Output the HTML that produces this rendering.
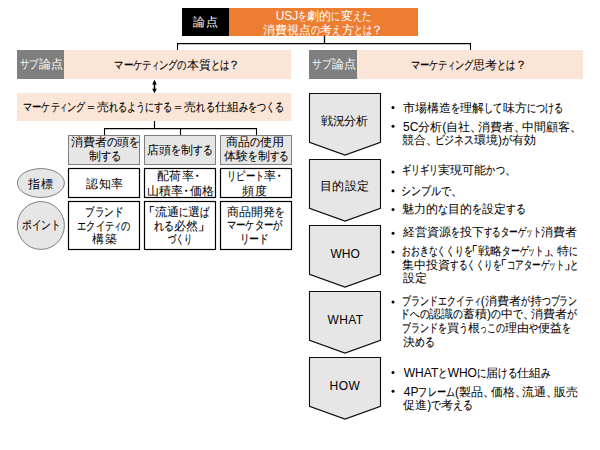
<!DOCTYPE html>
<html lang="ja"><head><meta charset="utf-8">
<style>
html,body{margin:0;padding:0;background:#fff;}
body{width:600px;height:450px;position:relative;overflow:hidden;font-family:"Liberation Sans",sans-serif;}
svg{position:absolute;left:0;top:0;}
i{display:inline-block;font-style:normal;transform-origin:0 0;-webkit-text-stroke:0.15px currentColor;}
i.q{-webkit-text-stroke:0.35px currentColor;}
i.n{-webkit-text-stroke:0;}
.t{position:absolute;white-space:nowrap;font-size:12px;line-height:14px;color:#000;}
.w{color:#fff;}
.w i{-webkit-text-stroke:0;}
</style></head><body>
<svg width="600" height="450" viewBox="0 0 600 450">
<rect x="182" y="8" width="47" height="28" fill="#000"/>
<rect x="229" y="8" width="189" height="28" fill="#ed7d31"/>
<line x1="324.5" y1="36" x2="324.5" y2="43.5" stroke="#000" stroke-width="1.3"/>
<line x1="177" y1="43.6" x2="471" y2="43.6" stroke="#000" stroke-width="1.2"/>
<line x1="177.5" y1="43.2" x2="177.5" y2="50" stroke="#000" stroke-width="1.1"/>
<line x1="470.5" y1="43.2" x2="470.5" y2="50" stroke="#000" stroke-width="1.1"/>
<rect x="17" y="50" width="47" height="29" fill="#7f7f7f"/>
<rect x="64" y="50" width="227" height="29" fill="#fbe5d6"/>
<rect x="309" y="50" width="48" height="29" fill="#7f7f7f"/>
<rect x="357" y="50" width="226" height="29" fill="#fbe5d6"/>
<line x1="154.5" y1="83" x2="154.5" y2="90" stroke="#000" stroke-width="1.5"/>
<polygon points="154.5,79.8 152.2,84.6 156.8,84.6" fill="#000"/>
<polygon points="154.5,93.3 152.2,88.8 156.8,88.8" fill="#000"/>
<rect x="17" y="93" width="274" height="28" fill="#fbe5d6"/>
<line x1="154.5" y1="121" x2="154.5" y2="128.5" stroke="#000" stroke-width="1.2"/>
<line x1="104" y1="128.6" x2="257" y2="128.6" stroke="#000" stroke-width="1.2"/>
<line x1="104.5" y1="128.2" x2="104.5" y2="135" stroke="#000" stroke-width="1.1"/>
<line x1="180.5" y1="128.2" x2="180.5" y2="135" stroke="#000" stroke-width="1.1"/>
<line x1="256.5" y1="128.2" x2="256.5" y2="135" stroke="#000" stroke-width="1.1"/>
<rect x="68.5" y="135.5" width="71" height="29" fill="#e6e6e6" stroke="#7f7f7f" stroke-width="1"/>
<rect x="68.5" y="168.5" width="71" height="29" fill="#fff" stroke="#000" stroke-width="1.2"/>
<rect x="68.5" y="201.5" width="71" height="48" fill="#fff" stroke="#000" stroke-width="1.2"/>
<rect x="144.5" y="135.5" width="71" height="29" fill="#e6e6e6" stroke="#7f7f7f" stroke-width="1"/>
<rect x="144.5" y="168.5" width="71" height="29" fill="#fff" stroke="#000" stroke-width="1.2"/>
<rect x="144.5" y="201.5" width="71" height="48" fill="#fff" stroke="#000" stroke-width="1.2"/>
<rect x="220.5" y="135.5" width="71" height="29" fill="#e6e6e6" stroke="#7f7f7f" stroke-width="1"/>
<rect x="220.5" y="168.5" width="71" height="29" fill="#fff" stroke="#000" stroke-width="1.2"/>
<rect x="220.5" y="201.5" width="71" height="48" fill="#fff" stroke="#000" stroke-width="1.2"/>
<ellipse cx="40.9" cy="183" rx="23.5" ry="14.4" fill="#e6e6e6" stroke="#7f7f7f" stroke-width="1"/>
<ellipse cx="40.9" cy="225.5" rx="23.5" ry="23.9" fill="#e6e6e6" stroke="#7f7f7f" stroke-width="1"/>
<polygon points="309.5,93.5 380.5,93.5 380.5,142.3 345,155.1 309.5,142.3" fill="#e6e6e6" stroke="#0d0d0d" stroke-width="1.1"/>
<polygon points="309.5,159.5 380.5,159.5 380.5,208.3 345,221.1 309.5,208.3" fill="#e6e6e6" stroke="#0d0d0d" stroke-width="1.1"/>
<polygon points="309.5,225.5 380.5,225.5 380.5,274.3 345,287.1 309.5,274.3" fill="#e6e6e6" stroke="#0d0d0d" stroke-width="1.1"/>
<polygon points="309.5,291.5 380.5,291.5 380.5,340.3 345,353.1 309.5,340.3" fill="#e6e6e6" stroke="#0d0d0d" stroke-width="1.1"/>
<polygon points="309.5,357.5 380.5,357.5 380.5,406.3 345,419.1 309.5,406.3" fill="#e6e6e6" stroke="#0d0d0d" stroke-width="1.1"/>
<circle cx="393" cy="107.5" r="1.5" fill="#000"/>
<circle cx="393" cy="126.3" r="1.5" fill="#000"/>
<circle cx="393" cy="172" r="1.5" fill="#000"/>
<circle cx="393" cy="190.8" r="1.5" fill="#000"/>
<circle cx="393" cy="209.5" r="1.5" fill="#000"/>
<circle cx="393" cy="233.3" r="1.5" fill="#000"/>
<circle cx="393" cy="252" r="1.5" fill="#000"/>
<circle cx="393" cy="302" r="1.5" fill="#000"/>
<circle cx="393" cy="372.5" r="1.5" fill="#000"/>
<circle cx="393" cy="391.3" r="1.5" fill="#000"/>
</svg>
<div class="t w" style="left:192.8px;top:15.3px"><span style="letter-spacing:1.40px">論点</span></div>
<div class="t w" style="left:275.7px;top:8.9px">USJ<i style="width:9.09px;transform:scaleX(0.7576)">を</i>劇的<i style="width:9.09px;transform:scaleX(0.7576)">に</i>変<i style="width:9.09px;transform:scaleX(0.7576)">え</i><i style="width:9.09px;transform:scaleX(0.7576)">た</i></div>
<div class="t w" style="left:263.3px;top:22.6px">消費視点<i style="width:9.16px;transform:scaleX(0.7635)">の</i>考<i style="width:9.16px;transform:scaleX(0.7635)">え</i>方<i style="width:9.16px;transform:scaleX(0.7635)">と</i><i style="width:9.16px;transform:scaleX(0.7635)">は</i><i class=n style="width:9.98px;text-indent:-1.01px">？</i></div>
<div class="t w" style="left:19.8px;top:57.25px"><i style="width:9.45px;transform:scaleX(0.7878)">サ</i><i style="width:9.45px;transform:scaleX(0.7878)">ブ</i>論点</div>
<div class="t" style="left:114.3px;top:57.65px"><i style="width:9.31px;transform:scaleX(0.7759)">マ</i><i style="width:9.55px;transform:scaleX(0.7958)">ー</i><i style="width:9.31px;transform:scaleX(0.7759)">ケ</i><i style="width:9.31px;transform:scaleX(0.7759)">テ</i><i style="width:7.16px;transform:scaleX(0.5968)">ィ</i><i style="width:9.31px;transform:scaleX(0.7759)">ン</i><i style="width:9.31px;transform:scaleX(0.7759)">グ</i><i style="width:9.31px;transform:scaleX(0.7759)">の</i>本質<i style="width:9.31px;transform:scaleX(0.7759)">と</i><i style="width:9.31px;transform:scaleX(0.7759)">は</i><i class=n style="width:10.15px;text-indent:-0.93px">？</i></div>
<div class="t w" style="left:312.3px;top:57.25px"><i style="width:9.84px;transform:scaleX(0.8197)">サ</i><i style="width:9.84px;transform:scaleX(0.8197)">ブ</i>論点</div>
<div class="t" style="left:410.7px;top:57.85px"><i style="width:9.19px;transform:scaleX(0.7662)">マ</i><i style="width:9.43px;transform:scaleX(0.7859)">ー</i><i style="width:9.19px;transform:scaleX(0.7662)">ケ</i><i style="width:9.19px;transform:scaleX(0.7662)">テ</i><i style="width:7.07px;transform:scaleX(0.5894)">ィ</i><i style="width:9.19px;transform:scaleX(0.7662)">ン</i><i style="width:9.19px;transform:scaleX(0.7662)">グ</i>思考<i style="width:9.19px;transform:scaleX(0.7662)">と</i><i style="width:9.19px;transform:scaleX(0.7662)">は</i><i class=n style="width:10.02px;text-indent:-0.99px">？</i></div>
<div class="t" style="left:23.0px;top:99.7px"><i style="width:9.10px;transform:scaleX(0.7581)">マ</i><i style="width:9.33px;transform:scaleX(0.7776)">ー</i><i style="width:9.10px;transform:scaleX(0.7581)">ケ</i><i style="width:9.10px;transform:scaleX(0.7581)">テ</i><i style="width:7.00px;transform:scaleX(0.5832)">ィ</i><i style="width:9.10px;transform:scaleX(0.7581)">ン</i><i style="width:9.10px;transform:scaleX(0.7581)">グ</i>＝売<i style="width:9.10px;transform:scaleX(0.7581)">れ</i><i style="width:9.10px;transform:scaleX(0.7581)">る</i><i style="width:9.10px;transform:scaleX(0.7581)">よ</i><i style="width:9.10px;transform:scaleX(0.7581)">う</i><i style="width:9.10px;transform:scaleX(0.7581)">に</i><i style="width:9.10px;transform:scaleX(0.7581)">す</i><i style="width:9.10px;transform:scaleX(0.7581)">る</i>＝売<i style="width:9.10px;transform:scaleX(0.7581)">れ</i><i style="width:9.10px;transform:scaleX(0.7581)">る</i>仕組<i style="width:9.10px;transform:scaleX(0.7581)">み</i><i style="width:9.10px;transform:scaleX(0.7581)">を</i><i style="width:9.10px;transform:scaleX(0.7581)">つ</i><i style="width:9.10px;transform:scaleX(0.7581)">く</i><i style="width:9.10px;transform:scaleX(0.7581)">る</i></div>
<div class="t" style="left:71.0px;top:135.0px">消費者<i style="width:10.44px;transform:scaleX(0.8697)">の</i>頭<i style="width:10.44px;transform:scaleX(0.8697)">を</i></div>
<div class="t" style="left:89.0px;top:148.85px">制<i style="width:10.16px;transform:scaleX(0.8463)">す</i><i style="width:10.16px;transform:scaleX(0.8463)">る</i></div>
<div class="t" style="left:147.3px;top:142.65px">店頭<i style="width:9.77px;transform:scaleX(0.8141)">を</i>制<i style="width:9.77px;transform:scaleX(0.8141)">す</i><i style="width:9.77px;transform:scaleX(0.8141)">る</i></div>
<div class="t" style="left:225.7px;top:135.35px">商品<i style="width:9.92px;transform:scaleX(0.8268)">の</i>使用</div>
<div class="t" style="left:224.3px;top:149.35px">体験<i style="width:9.59px;transform:scaleX(0.7994)">を</i>制<i style="width:9.59px;transform:scaleX(0.7994)">す</i><i style="width:9.59px;transform:scaleX(0.7994)">る</i></div>
<div class="t" style="left:28.2px;top:176.9px"><span style="letter-spacing:0.70px">指標</span></div>
<div class="t" style="left:22.2px;top:218.0px"><i style="width:9.57px;transform:scaleX(0.7976)">ポ</i><i style="width:9.57px;transform:scaleX(0.7976)">イ</i><i style="width:9.57px;transform:scaleX(0.7976)">ン</i><i style="width:9.57px;transform:scaleX(0.7976)">ト</i></div>
<div class="t" style="left:86.3px;top:176.65px"><span style="letter-spacing:0.50px">認知率</span></div>
<div class="t" style="left:157.0px;top:169.35px"><span style="letter-spacing:0.43px">配荷率<i style="width:4.80px;text-indent:-3.60px">・</i></span></div>
<div class="t" style="left:147.0px;top:184.05px">山積率<i style="width:6.67px;text-indent:-2.67px">・</i>価格</div>
<div class="t" style="left:227.0px;top:169.35px"><i style="width:9.25px;transform:scaleX(0.7709)">リ</i><i style="width:9.25px;transform:scaleX(0.7709)">ピ</i><i style="width:9.49px;transform:scaleX(0.7907)">ー</i><i style="width:9.25px;transform:scaleX(0.7709)">ト</i>率<i style="width:4.74px;text-indent:-3.63px">・</i></div>
<div class="t" style="left:242.0px;top:183.55px"><span style="letter-spacing:1.30px">頻度</span></div>
<div class="t" style="left:85.3px;top:205.0px"><i style="width:9.51px;transform:scaleX(0.7923)">ブ</i><i style="width:9.51px;transform:scaleX(0.7923)">ラ</i><i style="width:9.51px;transform:scaleX(0.7923)">ン</i><i style="width:9.51px;transform:scaleX(0.7923)">ド</i></div>
<div class="t" style="left:77.0px;top:218.85px"><i style="width:9.27px;transform:scaleX(0.7729)">エ</i><i style="width:9.27px;transform:scaleX(0.7729)">ク</i><i style="width:9.27px;transform:scaleX(0.7729)">イ</i><i style="width:9.27px;transform:scaleX(0.7729)">テ</i><i style="width:7.13px;transform:scaleX(0.5945)">ィ</i><i style="width:9.27px;transform:scaleX(0.7729)">の</i></div>
<div class="t" style="left:92.3px;top:232.35px"><span style="letter-spacing:0.40px">構築</span></div>
<div class="t" style="left:149.0px;top:204.5px"><i class=q style="width:6.00px;text-indent:-6.00px">「</i>流通<i style="width:9.36px;transform:scaleX(0.7800)">に</i>選<i style="width:9.36px;transform:scaleX(0.7800)">ば</i></div>
<div class="t" style="left:154.0px;top:218.5px"><i style="width:9.84px;transform:scaleX(0.8197)">れ</i><i style="width:9.84px;transform:scaleX(0.8197)">る</i>必然<i class=q style="width:6.31px">」</i></div>
<div class="t" style="left:168.0px;top:231.5px"><i style="width:8.11px;transform:scaleX(0.6760)">づ</i><i style="width:8.11px;transform:scaleX(0.6760)">く</i><i style="width:8.11px;transform:scaleX(0.6760)">り</i></div>
<div class="t" style="left:226.7px;top:204.65px"><span style="letter-spacing:0.08px">商品開発<i style="width:9.36px;transform:scaleX(0.7800)">を</i></span></div>
<div class="t" style="left:226.7px;top:218.0px"><i style="width:9.23px;transform:scaleX(0.7693)">マ</i><i style="width:9.47px;transform:scaleX(0.7890)">ー</i><i style="width:9.23px;transform:scaleX(0.7693)">ケ</i><i style="width:9.23px;transform:scaleX(0.7693)">タ</i><i style="width:9.47px;transform:scaleX(0.7890)">ー</i><i style="width:9.23px;transform:scaleX(0.7693)">が</i></div>
<div class="t" style="left:239.7px;top:232.0px"><i style="width:9.67px;transform:scaleX(0.8060)">リ</i><i style="width:9.92px;transform:scaleX(0.8267)">ー</i><i style="width:9.67px;transform:scaleX(0.8060)">ド</i></div>
<div class="t" style="left:320.7px;top:113.75px"><span style="letter-spacing:-0.13px">戦況分析</span></div>
<div class="t" style="left:319.7px;top:179.25px"><span style="letter-spacing:0.53px">目的設定</span></div>
<div class="t" style="left:330.4px;top:247.0px"><span style="letter-spacing:0.10px">WHO</span></div>
<div class="t" style="left:327.5px;top:312.75px"><span style="letter-spacing:0.40px">WHAT</span></div>
<div class="t" style="left:329.4px;top:378.75px"><span style="letter-spacing:0.60px">HOW</span></div>
<div class="t" style="left:403.3px;top:100.5px">市場構造<i style="width:9.09px;transform:scaleX(0.7579)">を</i>理解<i style="width:9.09px;transform:scaleX(0.7579)">し</i><i style="width:9.09px;transform:scaleX(0.7579)">て</i>味方<i style="width:9.09px;transform:scaleX(0.7579)">に</i><i style="width:9.09px;transform:scaleX(0.7579)">つ</i><i style="width:9.09px;transform:scaleX(0.7579)">け</i><i style="width:9.09px;transform:scaleX(0.7579)">る</i></div>
<div class="t" style="left:403.0px;top:119.6px">5C分析(自社<i style="width:7.88px">、</i>消費者<i style="width:7.88px">、</i>中間顧客<i style="width:7.88px">、</i></div>
<div class="t" style="left:402.3px;top:132.8px">競合<i style="width:8.23px">、</i><i style="width:9.88px;transform:scaleX(0.8231)">ビ</i><i style="width:9.88px;transform:scaleX(0.8231)">ジ</i><i style="width:9.88px;transform:scaleX(0.8231)">ネ</i><i style="width:9.88px;transform:scaleX(0.8231)">ス</i>環境)<i style="width:9.88px;transform:scaleX(0.8231)">が</i>有効</div>
<div class="t" style="left:402.3px;top:163.4px"><i style="width:9.05px;transform:scaleX(0.7540)">ギ</i><i style="width:9.05px;transform:scaleX(0.7540)">リ</i><i style="width:9.05px;transform:scaleX(0.7540)">ギ</i><i style="width:9.05px;transform:scaleX(0.7540)">リ</i>実現可能<i style="width:9.05px;transform:scaleX(0.7540)">か</i><i style="width:9.05px;transform:scaleX(0.7540)">つ</i><i style="width:7.54px">、</i></div>
<div class="t" style="left:401.3px;top:183.5px"><i style="width:9.95px;transform:scaleX(0.8288)">シ</i><i style="width:9.95px;transform:scaleX(0.8288)">ン</i><i style="width:9.95px;transform:scaleX(0.8288)">プ</i><i style="width:9.95px;transform:scaleX(0.8288)">ル</i><i style="width:9.95px;transform:scaleX(0.8288)">で</i><i style="width:8.29px">、</i></div>
<div class="t" style="left:402.3px;top:201.95px">魅力的<i style="width:9.80px;transform:scaleX(0.8171)">な</i>目的<i style="width:9.80px;transform:scaleX(0.8171)">を</i>設定<i style="width:9.80px;transform:scaleX(0.8171)">す</i><i style="width:9.80px;transform:scaleX(0.8171)">る</i></div>
<div class="t" style="left:403.3px;top:224.8px">経営資源<i style="width:8.45px;transform:scaleX(0.7039)">を</i>投下<i style="width:8.45px;transform:scaleX(0.7039)">す</i><i style="width:8.45px;transform:scaleX(0.7039)">る</i><i style="width:8.45px;transform:scaleX(0.7039)">タ</i><i style="width:8.66px;transform:scaleX(0.7219)">ー</i><i style="width:8.45px;transform:scaleX(0.7039)">ゲ</i><i style="width:6.50px;transform:scaleX(0.5414)">ッ</i><i style="width:8.45px;transform:scaleX(0.7039)">ト</i>消費者</div>
<div class="t" style="left:402.3px;top:244.0px"><i style="width:8.75px;transform:scaleX(0.7291)">お</i><i style="width:8.75px;transform:scaleX(0.7291)">お</i><i style="width:8.75px;transform:scaleX(0.7291)">き</i><i style="width:8.75px;transform:scaleX(0.7291)">な</i><i style="width:8.75px;transform:scaleX(0.7291)">く</i><i style="width:8.75px;transform:scaleX(0.7291)">く</i><i style="width:8.75px;transform:scaleX(0.7291)">り</i><i style="width:8.75px;transform:scaleX(0.7291)">を</i><i class=q style="width:5.61px;text-indent:-6.39px">「</i>戦略<i style="width:8.75px;transform:scaleX(0.7291)">タ</i><i style="width:8.97px;transform:scaleX(0.7478)">ー</i><i style="width:8.75px;transform:scaleX(0.7291)">ゲ</i><i style="width:6.73px;transform:scaleX(0.5608)">ッ</i><i style="width:8.75px;transform:scaleX(0.7291)">ト</i><i class=q style="width:5.61px">」</i><i style="width:7.29px">、</i>特<i style="width:8.75px;transform:scaleX(0.7291)">に</i></div>
<div class="t" style="left:402.3px;top:257.9px">集中投資<i style="width:8.49px;transform:scaleX(0.7077)">す</i><i style="width:8.49px;transform:scaleX(0.7077)">る</i><i style="width:8.49px;transform:scaleX(0.7077)">く</i><i style="width:8.49px;transform:scaleX(0.7077)">く</i><i style="width:8.49px;transform:scaleX(0.7077)">り</i><i style="width:8.49px;transform:scaleX(0.7077)">を</i><i class=q style="width:5.44px;text-indent:-6.56px">「</i><i style="width:8.49px;transform:scaleX(0.7077)">コ</i><i style="width:8.49px;transform:scaleX(0.7077)">ア</i><i style="width:8.49px;transform:scaleX(0.7077)">タ</i><i style="width:8.71px;transform:scaleX(0.7259)">ー</i><i style="width:8.49px;transform:scaleX(0.7077)">ゲ</i><i style="width:6.53px;transform:scaleX(0.5444)">ッ</i><i style="width:8.49px;transform:scaleX(0.7077)">ト</i><i class=q style="width:5.44px">」</i><i style="width:8.49px;transform:scaleX(0.7077)">と</i></div>
<div class="t" style="left:403.3px;top:271.25px"><span style="letter-spacing:-0.50px">設定</span></div>
<div class="t" style="left:402.3px;top:294.2px"><i style="width:8.95px;transform:scaleX(0.7457)">ブ</i><i style="width:8.95px;transform:scaleX(0.7457)">ラ</i><i style="width:8.95px;transform:scaleX(0.7457)">ン</i><i style="width:8.95px;transform:scaleX(0.7457)">ド</i><i style="width:8.95px;transform:scaleX(0.7457)">エ</i><i style="width:8.95px;transform:scaleX(0.7457)">ク</i><i style="width:8.95px;transform:scaleX(0.7457)">イ</i><i style="width:8.95px;transform:scaleX(0.7457)">テ</i><i style="width:6.88px;transform:scaleX(0.5736)">ィ</i>(消費者<i style="width:8.95px;transform:scaleX(0.7457)">が</i>持<i style="width:8.95px;transform:scaleX(0.7457)">つ</i><i style="width:8.95px;transform:scaleX(0.7457)">ブ</i><i style="width:8.95px;transform:scaleX(0.7457)">ラ</i><i style="width:8.95px;transform:scaleX(0.7457)">ン</i></div>
<div class="t" style="left:400.3px;top:307.35px"><i style="width:9.71px;transform:scaleX(0.8095)">ド</i><i style="width:9.71px;transform:scaleX(0.8095)">へ</i><i style="width:9.71px;transform:scaleX(0.8095)">の</i>認識<i style="width:9.71px;transform:scaleX(0.8095)">の</i>蓄積)<i style="width:9.71px;transform:scaleX(0.8095)">の</i>中<i style="width:9.71px;transform:scaleX(0.8095)">で</i><i style="width:8.09px">、</i>消費者<i style="width:9.71px;transform:scaleX(0.8095)">が</i></div>
<div class="t" style="left:402.3px;top:320.5px"><i style="width:8.95px;transform:scaleX(0.7458)">ブ</i><i style="width:8.95px;transform:scaleX(0.7458)">ラ</i><i style="width:8.95px;transform:scaleX(0.7458)">ン</i><i style="width:8.95px;transform:scaleX(0.7458)">ド</i><i style="width:8.95px;transform:scaleX(0.7458)">を</i>買<i style="width:8.95px;transform:scaleX(0.7458)">う</i>根<i style="width:6.88px;transform:scaleX(0.5737)">っ</i><i style="width:8.95px;transform:scaleX(0.7458)">こ</i><i style="width:8.95px;transform:scaleX(0.7458)">の</i>理由<i style="width:8.95px;transform:scaleX(0.7458)">や</i>便益<i style="width:8.95px;transform:scaleX(0.7458)">を</i></div>
<div class="t" style="left:403.3px;top:334.8px">決<i style="width:9.83px;transform:scaleX(0.8190)">め</i><i style="width:9.83px;transform:scaleX(0.8190)">る</i></div>
<div class="t" style="left:403.8px;top:365.5px">WHAT<i style="width:9.40px;transform:scaleX(0.7831)">と</i>WHO<i style="width:9.40px;transform:scaleX(0.7831)">に</i>届<i style="width:9.40px;transform:scaleX(0.7831)">け</i><i style="width:9.40px;transform:scaleX(0.7831)">る</i>仕組<i style="width:9.40px;transform:scaleX(0.7831)">み</i></div>
<div class="t" style="left:403.8px;top:384.85px">4P<i style="width:9.08px;transform:scaleX(0.7566)">フ</i><i style="width:9.08px;transform:scaleX(0.7566)">レ</i><i style="width:9.31px;transform:scaleX(0.7760)">ー</i><i style="width:9.08px;transform:scaleX(0.7566)">ム</i>(製品<i style="width:7.57px">、</i>価格<i style="width:7.57px">、</i>流通<i style="width:7.57px">、</i>販売</div>
<div class="t" style="left:403.3px;top:397.5px">促進)<i style="width:9.79px;transform:scaleX(0.8159)">で</i>考<i style="width:9.79px;transform:scaleX(0.8159)">え</i><i style="width:9.79px;transform:scaleX(0.8159)">る</i></div>
</body></html>
